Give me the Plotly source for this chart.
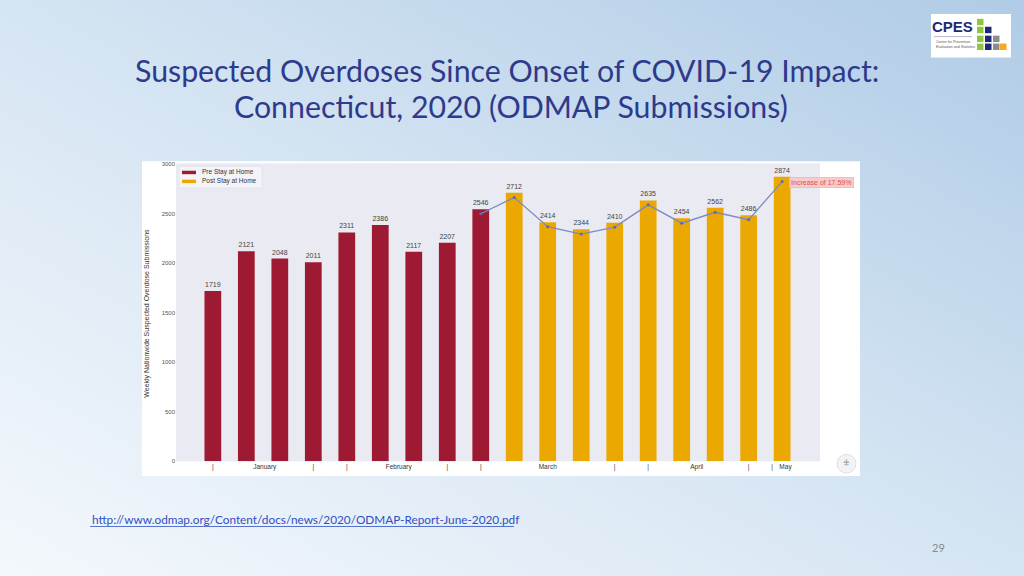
import base64
import plotly.graph_objects as go

# ---------------- data ----------------
pre_weeks = [0, 1, 2, 3, 4, 5, 6, 7, 8]
pre_values = [1719, 2121, 2048, 2011, 2311, 2386, 2117, 2207, 2546]
post_weeks = [9, 10, 11, 12, 13, 14, 15, 16, 17]
post_values = [2712, 2414, 2344, 2410, 2635, 2454, 2562, 2486, 2874]
trend_weeks = [8, 9, 10, 11, 12, 13, 14, 15, 16, 17]
trend_values = [2500, 2665, 2370, 2295, 2365, 2590, 2405, 2515, 2440, 2825]
tick_positions = [0, 1.55, 3, 4, 5.55, 7, 8, 10, 12, 13, 14.45, 16, 16.7, 17.1]
tick_labels = ["|", "January", "|", "|", "February", "|", "|", "March",
               "|", "|", "April", "|", "|", "May"]
y_ticks = [0, 500, 1000, 1500, 2000, 2500, 3000]

W, H = 1024, 576
def px(x):
    return x / W
def py(y):
    return 1 - y / H

RED = "#9E1A32"
GOLD = "#EAA800"

fig = go.Figure()
fig.add_trace(go.Bar(x=pre_weeks, y=pre_values, name="Pre Stay at Home",
                     marker=dict(color=RED, line=dict(width=0)), width=0.5,
                     texttemplate="%{y}", textposition="outside",
                     textfont=dict(size=7, color="#444", family="Liberation Sans"),
                     cliponaxis=False, showlegend=False))
fig.add_trace(go.Bar(x=post_weeks, y=post_values, name="Post Stay at Home",
                     marker=dict(color=GOLD, line=dict(width=0)), width=0.5,
                     texttemplate="%{y}", textposition="outside",
                     textfont=dict(size=7, color="#444", family="Liberation Sans"),
                     cliponaxis=False, showlegend=False))
fig.add_trace(go.Scatter(x=trend_weeks, y=trend_values, mode="lines+markers",
                         line=dict(color="#7D89C6", width=1.3),
                         marker=dict(size=3, color="#5E6AAE"),
                         showlegend=False, cliponaxis=False))

# gradient slide background via SVG data URI
svg = f'''<svg xmlns="http://www.w3.org/2000/svg" width="{W}" height="{H}">
<defs><linearGradient id="g" x1="0" y1="1" x2="1" y2="0">
<stop offset="0" stop-color="#F4F8FC"/>
<stop offset="0.45" stop-color="#D9E7F4"/>
<stop offset="1" stop-color="#AFCBE6"/>
</linearGradient></defs>
<rect width="{W}" height="{H}" fill="url(#g)"/></svg>'''
src = "data:image/svg+xml;base64," + base64.b64encode(svg.encode()).decode()

shapes = []
# chart image white background
shapes.append(dict(type="rect", xref="paper", yref="paper", layer="below",
                   x0=px(142), x1=px(860), y0=py(478), y1=py(160),
                   fillcolor="white", line=dict(width=0)))
# plot area grey
shapes.append(dict(type="rect", xref="paper", yref="paper", layer="below",
                   x0=px(176), x1=px(820), y0=py(463), y1=py(162),
                   fillcolor="#EAEAF2", line=dict(width=0)))
# legend box
shapes.append(dict(type="rect", xref="paper", yref="paper", layer="below",
                   x0=px(179), x1=px(262), y0=py(187), y1=py(165),
                   fillcolor="rgba(255,255,255,0.45)", line=dict(width=0.6, color="#DDDDE6")))
shapes.append(dict(type="rect", xref="paper", yref="paper",
                   x0=px(182), x1=px(196), y0=py(173), y1=py(169.5),
                   fillcolor=RED, line=dict(width=0)))
shapes.append(dict(type="rect", xref="paper", yref="paper",
                   x0=px(182), x1=px(196), y0=py(182), y1=py(178.5),
                   fillcolor=GOLD, line=dict(width=0)))
# small round icon
shapes.append(dict(type="circle", xref="paper", yref="paper",
                   x0=px(837), x1=px(856), y0=py(475), y1=py(456),
                   fillcolor="#F3F3F5", line=dict(width=0.8, color="#DADADF")))
# url underline
shapes.append(dict(type="line", xref="paper", yref="paper",
                   x0=px(90), x1=px(514), y0=py(529), y1=py(529),
                   line=dict(width=0.8, color="#2F4FC4")))
# logo box
shapes.append(dict(type="rect", xref="paper", yref="paper",
                   x0=px(931), x1=px(1011), y0=py(55), y1=py(11),
                   fillcolor="white", line=dict(width=0)))
shapes.append(dict(type="line", xref="paper", yref="paper",
                   x0=px(934), x1=px(972), y0=py(34), y1=py(34),
                   line=dict(width=0.6, color="#8A7FB8")))
logo_cols = [(977, "#8DC63F", [16, 24, 33, 41]),
             (985, "#1E2A78", [24, 33, 41]),
             (993, "#8A8C8E", [33, 41]),
             (1000, "#F6A821", [41])]
for cx, col, rows in logo_cols:
    for ry in rows:
        shapes.append(dict(type="rect", xref="paper", yref="paper",
                           x0=px(cx), x1=px(cx + 6.5), y0=py(ry + 6.5), y1=py(ry),
                           fillcolor=col, line=dict(width=0)))

ann = []
TITLE = "#2E3A8C"
ann.append(dict(text="Suspected Overdoses Since Onset of COVID-19 Impact:",
                xref="paper", yref="paper", x=px(507), y=py(68), xanchor="center", yanchor="middle",
                showarrow=False, font=dict(family="Lato", size=30.3, color=TITLE)))
ann.append(dict(text="Connecticut, 2020 (ODMAP Submissions)",
                xref="paper", yref="paper", x=px(511), y=py(104), xanchor="center", yanchor="middle",
                showarrow=False, font=dict(family="Lato", size=30.3, color=TITLE)))
ann.append(dict(text="Pre Stay at Home", xref="paper", yref="paper", x=px(200), y=py(171),
                xanchor="left", yanchor="middle", showarrow=False,
                font=dict(family="Liberation Sans", size=6.5, color="#333")))
ann.append(dict(text="Post Stay at Home", xref="paper", yref="paper", x=px(200), y=py(180),
                xanchor="left", yanchor="middle", showarrow=False,
                font=dict(family="Liberation Sans", size=6.5, color="#333")))
ann.append(dict(text="Weekly Nationwide Suspected Overdose Submissions", xref="paper", yref="paper",
                x=px(147), y=py(314), xanchor="center", yanchor="middle", textangle=-90,
                showarrow=False, font=dict(family="Liberation Sans", size=7, color="#333")))
ann.append(dict(text="Increase of 17.59%", xref="paper", yref="paper", x=px(821), y=py(181.5),
                xanchor="center", yanchor="middle", showarrow=False,
                bgcolor="#F9CACA", bordercolor="#F2A9A9", borderwidth=0.6, borderpad=1.5,
                font=dict(family="Liberation Sans", size=7, color="#D9534F")))
ann.append(dict(text="⁜", xref="paper", yref="paper", x=px(846.5), y=py(465.5),
                xanchor="center", yanchor="middle", showarrow=False,
                font=dict(family="DejaVu Sans", size=8, color="#888")))
ann.append(dict(text="http://www.odmap.org/Content/docs/news/2020/ODMAP-Report-June-2020.pdf",
                xref="paper", yref="paper", x=px(90), y=py(522), xanchor="left", yanchor="middle",
                showarrow=False, font=dict(family="Lato", size=11.8, color="#2F4FC4")))
ann.append(dict(text="29", xref="paper", yref="paper", x=px(938), y=py(550),
                xanchor="center", yanchor="middle", showarrow=False,
                font=dict(family="Lato", size=11, color="#8A8A8A")))
ann.append(dict(text="<b>CPES</b>", xref="paper", yref="paper", x=px(952), y=py(24),
                xanchor="center", yanchor="middle", showarrow=False,
                font=dict(family="Liberation Sans", size=15, color="#1E2A78")))
ann.append(dict(text="Center for Prevention<br>Evaluation and Statistics", xref="paper", yref="paper",
                x=px(934), y=py(42), xanchor="left", yanchor="middle", showarrow=False, align="left",
                font=dict(family="Liberation Sans", size=3.6, color="#555")))

fig.update_layout(
    width=W, height=H, margin=dict(l=0, r=0, t=0, b=0),
    paper_bgcolor="#D6E5F3", plot_bgcolor="rgba(0,0,0,0)",
    barmode="overlay", showlegend=False,
    images=[dict(source=src, xref="paper", yref="paper", x=-0.01, y=1.01, sizex=1.02, sizey=1.02,
                 sizing="stretch", layer="below", xanchor="left", yanchor="top")],
    shapes=shapes, annotations=ann,
    xaxis=dict(domain=[px(176), px(820)], range=[-1.1, 18.13], showgrid=False, zeroline=False,
               tickmode="array", tickvals=tick_positions, ticktext=tick_labels, ticks="",
               tickfont=dict(family="Liberation Sans", size=6.5, color="#333"), showline=False),
    yaxis=dict(domain=[py(463), py(163)], range=[0, 3000], showgrid=False, zeroline=False,
               tickmode="array", tickvals=y_ticks, ticks="",
               tickfont=dict(family="Liberation Sans", size=6, color="#555"), showline=False),
)

fig.write_html("out.html", config={"displayModeBar": False},
               post_script="document.body.style.margin='0';document.body.style.overflow='hidden';")
